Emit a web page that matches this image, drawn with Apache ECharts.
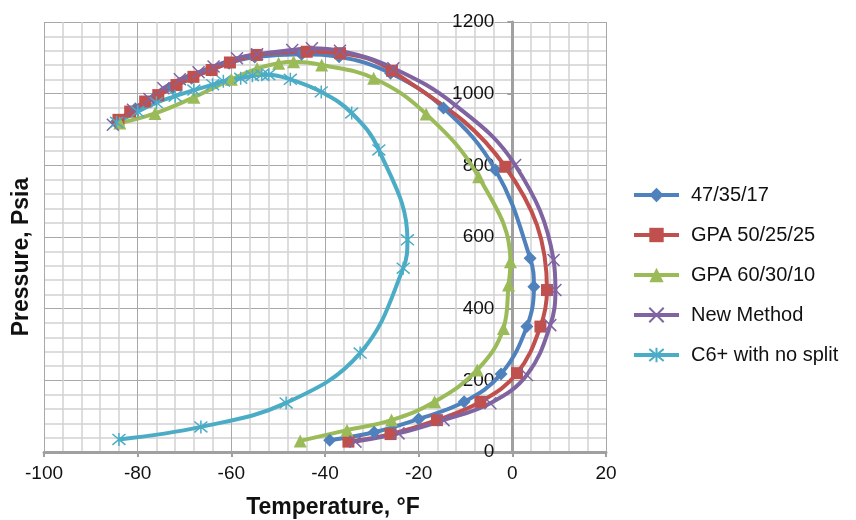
<!DOCTYPE html>
<html>
<head>
<meta charset="utf-8">
<script src="https://cdn.jsdelivr.net/npm/echarts@6/dist/echarts.min.js"></script>
<style>
html, body { margin: 0; background: #fff; }
#chart { width: 856px; height: 520px; }
</style>
</head>
<body>
<div id="chart"></div>
<script>
// 각 곡선의 점 [온도 °F, 압력 psia] - 그림에서 읽은 값
let pts4735 = [[-84.5, 922], [-80.5, 958], [-76.5, 988], [-72.5, 1017], [-68.5, 1043], [-64.5, 1066],
	[-60.5, 1085], [-55, 1102], [-45, 1110], [-37, 1103], [-26, 1057], [-14.7, 960], [-3.6, 787],
	[3.8, 541], [4.6, 461], [3.1, 350], [-2.4, 218], [-10.3, 140], [-20, 92], [-29.5, 55], [-39, 33]];
let ptsGpa50 = [[-84.1, 927], [-81.6, 950], [-78.4, 978], [-75.6, 996], [-71.7, 1024], [-68.1, 1047],
	[-64.2, 1066], [-60.3, 1087], [-54.6, 1108], [-43.9, 1117], [-36.8, 1113], [-25.7, 1064], [-1.5, 796],
	[7.4, 452], [6, 350], [1, 220], [-6.8, 140], [-16.1, 89], [-26, 50], [-35, 29]];
let ptsGpa60 = [[-83.8, 918], [-76.3, 945], [-68, 990], [-60, 1040], [-54.5, 1070], [-49.9, 1085],
	[-46.7, 1089], [-40.7, 1080], [-29.6, 1043], [-18.4, 943], [-7.2, 768], [-0.4, 531], [-0.8, 466],
	[-1.9, 345], [-7.5, 229], [-16.6, 140], [-25.8, 89], [-35.3, 61], [-45.3, 31]];
let ptsNew = [[-85.3, 913], [-81, 955], [-77.5, 985], [-74.5, 1015], [-71, 1040], [-67, 1060],
	[-63.8, 1076], [-58.8, 1099], [-54.5, 1110], [-47, 1122], [-42.8, 1127], [-36.8, 1120], [-25.4, 1071],
	[-12.2, 968], [0.6, 801], [8.8, 536], [9.2, 452], [8.1, 354], [3.1, 215], [-4.7, 136], [-14.7, 89],
	[-24.3, 52], [-33.5, 29]];
let ptsC6 = [[-84.5, 920], [-80, 950], [-76, 975], [-72, 993], [-68, 1010], [-64, 1025], [-61.7, 1035],
	[-58, 1043], [-55.5, 1050], [-53.5, 1053], [-52, 1053], [-47.4, 1040], [-40.8, 1005], [-34.3, 946],
	[-28.5, 843], [-22.4, 592], [-23.3, 513], [-32.5, 276], [-48.3, 137], [-66.5, 70], [-84, 35]];

let seriesNames = ['47/35/17', 'GPA 50/25/25', 'GPA 60/30/10', 'New Method', 'C6+ with no split'];
let seriesColors = ['#4F81BD', '#C0504D', '#9BBB59', '#8064A2', '#4BACC6'];

let font = '"Liberation Sans", Arial, sans-serif';
let crossPath = 'path://M0,0L10,10M10,0L0,10';
let starPath = 'path://M0,0L10,10M10,0L0,10M5,-1L5,11';

// 그리드 위치 (y축을 x=0 위치로 옮기기 위해 사용)
let gridLeft = 44, gridRight = 250;
let plotWidth = 856 - gridLeft - gridRight;
let yAxisShift = -plotWidth * 100 / 120;

// 시리즈 하나 만드는 함수
function makeSeries(i, data, symbol, size){
	return {
		name: seriesNames[i],
		type: 'line',
		data: data,
		smooth: 0.4,
		symbol: symbol,
		symbolSize: size,
		lineStyle: { color: seriesColors[i], width: 4 },
		itemStyle: { color: seriesColors[i], borderColor: seriesColors[i], borderWidth: (symbol.indexOf('path') == 0) ? 1.5 : 0 },
		emphasis: { disabled: true }
	};
}

let myChart = echarts.init(document.getElementById('chart'));
let option = {
	animation: false,
	backgroundColor: '#fff',
	grid: { left: gridLeft, right: gridRight, top: 22, bottom: 68, outerBoundsMode: 'none' },
	legend: {
		orient: 'vertical',
		left: 627,
		top: 180,
		itemWidth: 45,
		itemHeight: 18,
		itemGap: 20,
		lineStyle: { width: 4 },
		textStyle: { fontFamily: font, fontSize: 20, color: '#111', lineHeight: 20, padding: [0, 0, 0, 7] },
		data: seriesNames
	},
	xAxis: {
		type: 'value',
		min: -100,
		max: 20,
		interval: 20,
		axisLine: { onZero: false, lineStyle: { color: '#a0a0a0', width: 3 } },
		axisTick: { show: true, length: 5, lineStyle: { color: '#a0a0a0', width: 2 } },
		axisLabel: { fontFamily: font, fontSize: 19, color: '#111', margin: 12 },
		splitLine: { show: true, lineStyle: { color: '#a8a8a8', width: 1 } },
		minorTick: { show: false, splitNumber: 5 },
		minorSplitLine: { show: true, lineStyle: { color: '#d2d2d2', width: 1.5 } }
	},
	yAxis: {
		type: 'value',
		min: 0,
		max: 1200,
		interval: 200,
		offset: yAxisShift,
		axisLine: { show: true, onZero: false, lineStyle: { color: '#a0a0a0', width: 3 } },
		axisTick: { show: true, length: 5, lineStyle: { color: '#a0a0a0', width: 2 } },
		axisLabel: { fontFamily: font, fontSize: 19, color: '#111', margin: 18,
			formatter: function(v){ return String(v); } },
		splitLine: { show: true, lineStyle: { color: '#a8a8a8', width: 1 } },
		minorTick: { show: false, splitNumber: 5 },
		minorSplitLine: { show: true, lineStyle: { color: '#d2d2d2', width: 1.5 } }
	},
	graphic: [
		{ type: 'text', x: 333, y: 508,
			style: { text: 'Temperature, °F', font: 'bold 23px ' + font, fill: '#111', textAlign: 'center', textVerticalAlign: 'middle' } },
		{ type: 'text', x: 22, y: 257, rotation: Math.PI / 2,
			style: { text: 'Pressure, Psia', font: 'bold 23px ' + font, fill: '#111', textAlign: 'center', textVerticalAlign: 'middle' } }
	],
	series: [
		makeSeries(0, pts4735, 'diamond', 13),
		makeSeries(1, ptsGpa50, 'rect', 12),
		makeSeries(2, ptsGpa60, 'triangle', 13),
		makeSeries(3, ptsNew, crossPath, 12),
		makeSeries(4, ptsC6, starPath, 13)
	]
};
myChart.setOption(option);
</script>
</body>
</html>
